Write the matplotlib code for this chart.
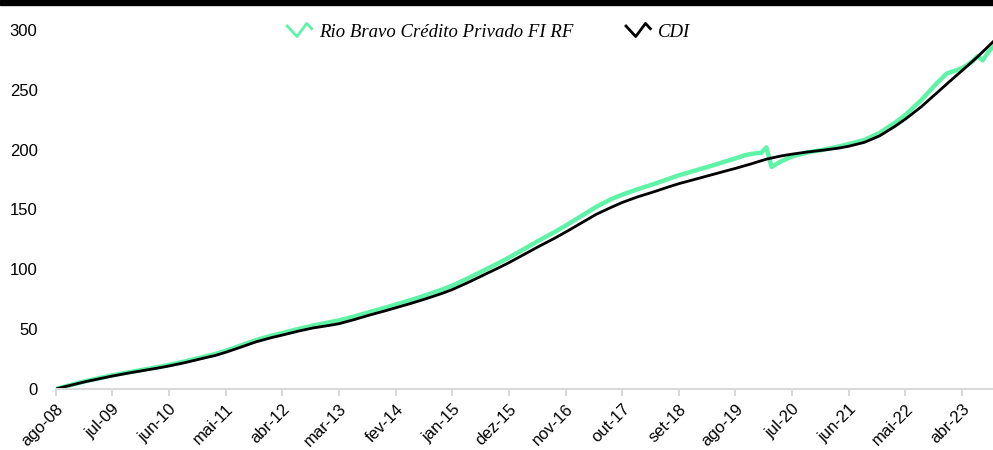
import matplotlib
matplotlib.use("Agg")
import matplotlib.pyplot as plt
from matplotlib.lines import Line2D
from matplotlib.legend_handler import HandlerBase
from matplotlib.patches import Rectangle

# months counted from ago-08, values = accumulated return (%)
fund_month = [0, 3, 6, 9, 11, 14, 17, 20, 22, 25, 28, 31, 33, 36, 39, 42, 44, 47, 50, 53,
              55, 58, 61, 64, 66, 69, 72, 75, 77, 80, 83, 86, 88, 91, 94, 97, 99, 102, 105,
              108, 110, 113, 116, 119, 121, 124, 127, 130, 132, 134, 136, 137, 138, 139, 140,
              141, 143, 146, 149, 152, 154, 157, 160, 163, 165, 168, 171, 173, 174, 176, 178,
              179, 180, 181, 182]
fund_values = [0, 3.4, 6.7, 9.5, 11.4, 13.8, 16.1, 18.4, 20.1, 22.9, 26.1, 29.2, 31.9, 36.4,
               41.0, 44.6, 46.7, 50.0, 53.0, 55.6, 57.3, 60.6, 64.3, 67.9, 70.5, 74.3, 78.5,
               83.0, 86.3, 92.3, 98.7, 105.2, 109.7, 117.0, 124.4, 131.4, 136.4, 144.3, 152.2,
               158.9, 162.3, 166.9, 171.0, 175.5, 178.5, 182.3, 186.0, 190.0, 192.6, 195.5,
               197.0, 197.3, 201.8, 185.5, 188.0, 190.5, 194.3, 197.6, 199.8, 202.5, 204.6,
               208.0, 214.0, 222.5, 229.0, 241.0, 255.0, 263.5, 265.0, 268.0, 273.5, 278.0,
               274.5, 281.0, 286.0]

cdi_month = [0, 3, 6, 9, 11, 14, 17, 20, 22, 25, 28, 31, 33, 36, 39, 42, 44, 47, 50, 53,
             55, 58, 61, 64, 66, 69, 72, 75, 77, 80, 83, 86, 88, 91, 94, 97, 99, 102, 105,
             108, 110, 113, 116, 119, 121, 124, 127, 130, 132, 135, 138, 141, 143, 146, 149,
             152, 154, 157, 160, 163, 165, 168, 171, 174, 176, 179, 182]
cdi_values = [0, 3.2, 6.3, 9.0, 10.8, 13.2, 15.4, 17.6, 19.2, 21.9, 25.0, 28.0, 30.6, 35.0,
              39.5, 43.0, 45.0, 48.2, 51.0, 53.0, 54.5, 58.0, 61.8, 65.3, 67.8, 71.5, 75.5,
              79.8, 83.0, 88.8, 95.0, 101.2, 105.5, 112.5, 119.5, 126.2, 131.0, 138.5, 146.0,
              152.0, 155.8, 160.5, 164.5, 168.8, 171.5, 175.0, 178.5, 182.0, 184.3, 188.0,
              192.0, 194.8, 196.2, 198.0, 199.5, 201.2, 202.8, 206.0, 211.5, 219.5, 225.5,
              235.5, 247.0, 258.5, 266.0, 277.5, 290.0]

tick_month = [0, 11, 22, 33, 44, 55, 66, 77, 88, 99, 110, 121, 132, 143, 154, 165, 176]
tick_labels = ["ago-08", "jul-09", "jun-10", "mai-11", "abr-12", "mar-13", "fev-14",
               "jan-15", "dez-15", "nov-16", "out-17", "set-18", "ago-19", "jul-20",
               "jun-21", "mai-22", "abr-23"]

GREEN = "#5ef3a6"


class ZigZag(HandlerBase):
    def create_artists(self, legend, orig, xd, yd, w, h, fontsize, trans):
        xs = [xd + w * f for f in (0.0, 0.4, 0.8, 1.0)]
        ys = [yd + h * f for f in (0.8, 0.0, 1.0, 0.6)]
        ln = Line2D(xs, ys, color=orig.get_color(), lw=2.0, transform=trans)
        return [ln]


plt.rcParams["font.family"] = ["Liberation Sans", "DejaVu Sans"]
fig = plt.figure(figsize=(9.93, 4.5), dpi=100)
ax = fig.add_axes([0.056, 0.1356, 0.944, 0.798])

l1, = ax.plot(fund_month, fund_values, color=GREEN, lw=3.2, solid_capstyle="round",
              solid_joinstyle="round", label="Rio Bravo Crédito Privado FI RF")
l2, = ax.plot(cdi_month, cdi_values, color="black", lw=2.0, solid_joinstyle="round",
              label="CDI")

ax.set_xlim(0, 182)
ax.set_ylim(0, 300)
ax.set_yticks([0, 50, 100, 150, 200, 250, 300])
ax.set_xticks(tick_month)
ax.set_xticklabels(tick_labels, rotation=45, ha="right", rotation_mode="anchor")

for s in ["top", "right", "left"]:
    ax.spines[s].set_visible(False)
ax.spines["bottom"].set_color("#d9d9d9")
ax.spines["bottom"].set_linewidth(1.5)
ax.tick_params(axis="y", length=0, labelsize=12, pad=13)
ax.tick_params(axis="x", length=5, width=1.5, color="#d9d9d9", labelsize=12, pad=4)

ax.legend(handles=[l1, l2], handler_map={Line2D: ZigZag()}, ncol=2, frameon=False,
          loc="upper center", bbox_to_anchor=(0.462, 1.065), handlelength=1.3,
          columnspacing=2.8, handletextpad=0.4,
          prop={"family": "Liberation Serif", "style": "italic", "size": 13.5})

fig.add_artist(Rectangle((0, 1 - 5 / 450), 1, 5 / 450, color="black",
                         transform=fig.transFigure, zorder=10))

fig.savefig("out.png", dpi=100)
